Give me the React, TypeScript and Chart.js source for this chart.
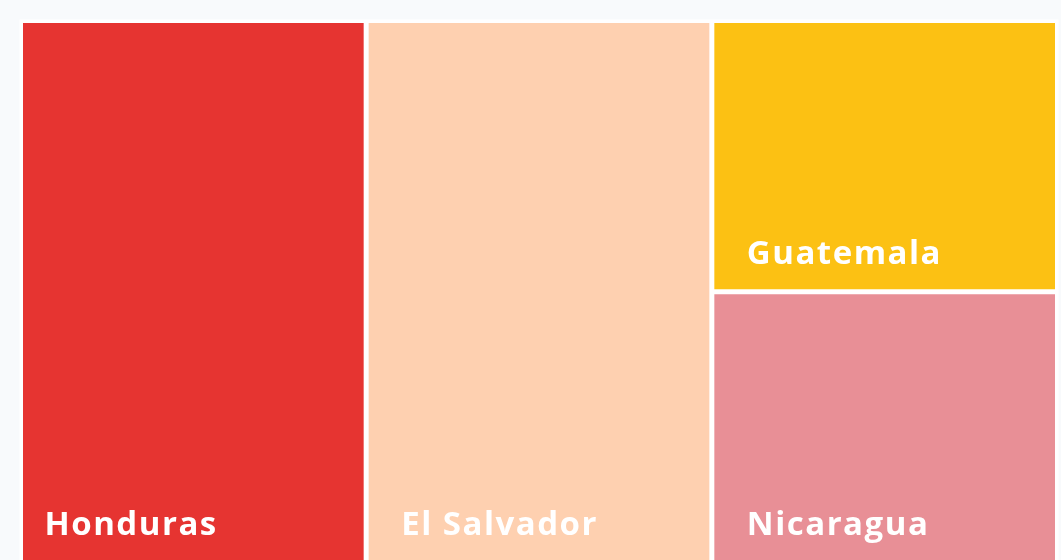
import React, { useEffect, useRef } from "react";
import { Chart, registerables } from "chart.js";

Chart.register(...registerables);

const countries = ["Honduras", "El Salvador", "Guatemala", "Nicaragua"];
const values = [50, 50, 25, 25];
const columns = [0, 1, 2, 2];
const columnLabels = ["A", "B", "C"];
const colors = ["#e63431", "#fed0b0", "#fcc113", "#e88f96"];

const LABEL_INSET_DEFAULT = 35;
const LABEL_INSET: Record<string, number> = { Honduras: 24 };

export default function App() {
  const ref = useRef<HTMLCanvasElement | null>(null);
  useEffect(() => {
    if (!ref.current) return;
    const order = countries.map((_, i) => i).reverse();
    const datasets = order.map((i) => ({
      label: countries[i],
      data: columnLabels.map((_, c) => (columns[i] === c ? values[i] : null)),
      backgroundColor: colors[i],
      borderColor: "#ffffff",
      borderWidth: 2.5,
      borderSkipped: false as const,
      inflateAmount: 0,
      barPercentage: 1,
      categoryPercentage: 1,
      stack: "s",
    }));
    const bgPlugin = {
      id: "bg",
      beforeDraw(chart: any) {
        const { ctx, chartArea: a } = chart;
        ctx.save();
        ctx.fillStyle = "#f8fafc";
        ctx.fillRect(0, 0, chart.width, chart.height);
        ctx.fillStyle = "#ffffff";
        ctx.fillRect(a.left - 1, a.top - 1, a.right - a.left + 2, a.bottom - a.top + 2);
        ctx.restore();
      },
    };
    const labelPlugin = {
      id: "labels",
      afterDatasetsDraw(chart: any) {
        const { ctx } = chart;
        ctx.save();
        ctx.fillStyle = "#ffffff";
        ctx.font = "700 33px 'Open Sans'";
        (ctx as any).letterSpacing = "1.5px";
        ctx.textBaseline = "alphabetic";
        ctx.textAlign = "left";
        chart.data.datasets.forEach((ds: any, di: number) => {
          const meta = chart.getDatasetMeta(di);
          meta.data.forEach((el: any, j: number) => {
            if (ds.data[j] == null) return;
            const p = el.getProps(["x", "y", "base", "width"], true);
            const inset = LABEL_INSET[ds.label] ?? LABEL_INSET_DEFAULT;
            const left = p.x - p.width / 2 + inset;
            const bottom = Math.max(p.y, p.base);
            ctx.fillText(ds.label, left, bottom - 28);
          });
        });
        ctx.restore();
      },
    };
    const chart = new Chart(ref.current, {
      type: "bar",
      data: { labels: columnLabels, datasets },
      options: {
        animation: false,
        responsive: false,
        layout: { padding: { left: 20.5, top: 20.5, right: 3.5, bottom: 0 } },
        plugins: { legend: { display: false }, tooltip: { enabled: false } },
        scales: {
          x: { display: false, stacked: true },
          y: { display: false, stacked: true, min: 0, max: 50 },
        },
      },
      plugins: [bgPlugin, labelPlugin],
    });
    return () => chart.destroy();
  }, []);
  return (
    <div style={{ position: "fixed", left: 0, top: 0, width: 1061, height: 560, overflow: "hidden", background: "#f8fafc" }}>
      <canvas ref={ref} width={1061} height={563} style={{ width: 1061, height: 563, display: "block" }} />
    </div>
  );
}
